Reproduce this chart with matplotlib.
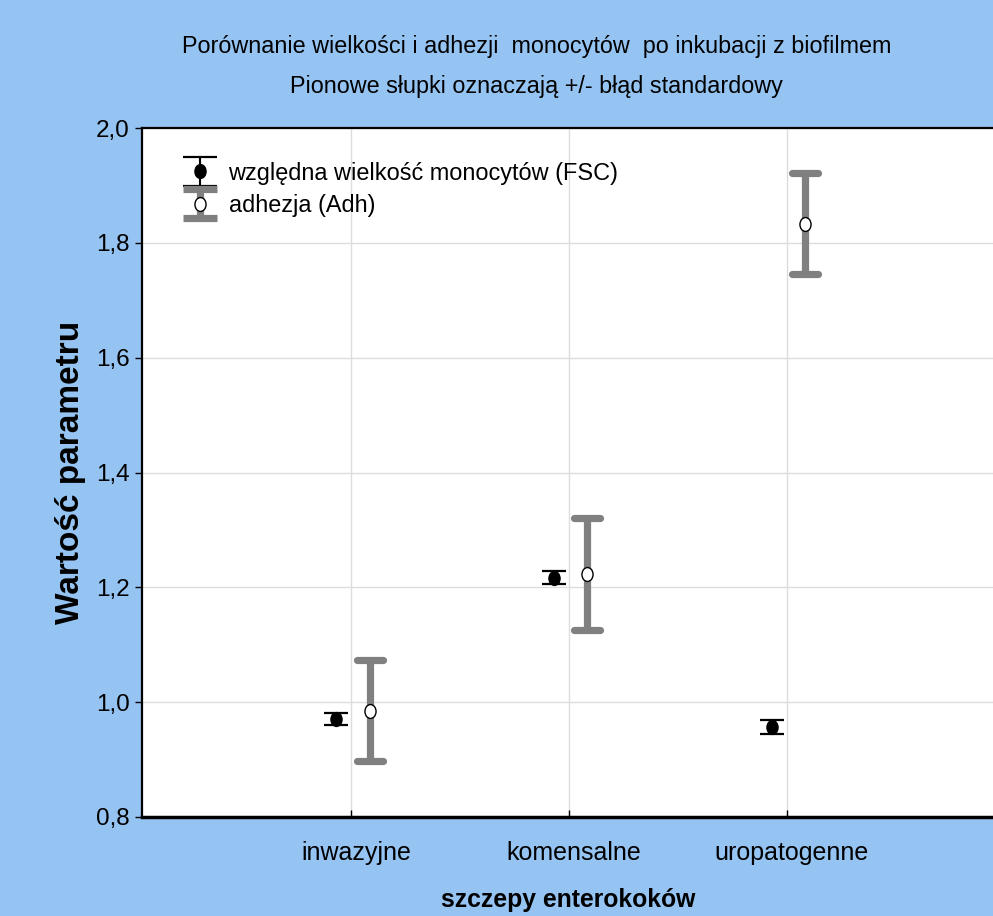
import matplotlib
matplotlib.use("Agg")
import matplotlib.pyplot as plt
import numpy as np
from matplotlib.path import Path
from matplotlib.markers import MarkerStyle
from matplotlib.transforms import Affine2D, ScaledTranslation
from matplotlib.legend_handler import HandlerErrorbar
from matplotlib.container import ErrorbarContainer

plt.rcParams['font.family'] = ['Liberation Sans', 'DejaVu Sans']

categories = ['inwazyjne', 'komensalne', 'uropatogenne']
fsc_mean = [0.971, 1.217, 0.957]
fsc_se = [0.011, 0.011, 0.012]
adh_mean = [0.985, 1.223, 1.833]
adh_se = [0.088, 0.097, 0.088]
yticks = [0.8, 1.0, 1.2, 1.4, 1.6, 1.8, 2.0]
ytick_labels = ['0,8', '1,0', '1,2', '1,4', '1,6', '1,8', '2,0']

BG = '#95C4F2'
W, H = 993, 916
fig = plt.figure(figsize=(W / 100, H / 100), dpi=100, facecolor=BG)
ax = fig.add_axes([142 / W, 1 - 817 / H, (1004.5 - 142) / W, (817 - 128) / H])
ax.set_facecolor('white')

x = np.arange(1, len(categories) + 1)
ell = MarkerStyle(Path.unit_circle().transformed(Affine2D().scale(0.8, 1.0)))

adh = ax.errorbar(x + 0.085, adh_mean, yerr=adh_se, fmt='none', ecolor='#808080',
                  elinewidth=5.2, capsize=9.7, capthick=5.2, zorder=3)
for cl in adh[1]:
    cl.set_marker(MarkerStyle('_', capstyle='round'))
ax.plot(x + 0.085, adh_mean, linestyle='none', marker=ell, markersize=10,
        markerfacecolor='white', markeredgecolor='black', markeredgewidth=1.0, zorder=4)

fsc = ax.errorbar(x - 0.068, fsc_mean, yerr=fsc_se, fmt='none', ecolor='black',
                  elinewidth=1.5, capsize=8.5, capthick=1.6, zorder=3)
ax.plot(x - 0.068, fsc_mean, linestyle='none', marker=ell, markersize=10,
        markerfacecolor='black', markeredgecolor='black', zorder=4)

# legend handles (NaN data, only used for the legend)
hf = ax.errorbar([np.nan], [np.nan], yerr=[0.0], fmt='o', color='black', ecolor='black',
                 ms=10, elinewidth=1.5, capsize=12.5, capthick=1.6)
hf[0].set_marker(ell)
ha = ax.errorbar([np.nan], [np.nan], yerr=[0.0], fmt='o', mfc='white', mec='black', ms=10,
                 ecolor='#808080', elinewidth=5.2, capsize=12.5, capthick=5.2)
ha[0].set_marker(ell)
for cl in ha[1]:
    cl.set_marker(MarkerStyle('_', capstyle='round'))
leg = ax.legend([hf, ha], ['względna wielkość monocytów (FSC)', 'adhezja (Adh)'],
                loc='upper left', bbox_to_anchor=(0.035, 0.965), frameon=False,
                fontsize=16.9, handlelength=1.6, handletextpad=0.4, labelspacing=0.4,
                borderaxespad=0,
                handler_map={ErrorbarContainer: HandlerErrorbar(yerr_size=0.61)})

ax.set_xlim(0.04, 4.0)
ax.set_ylim(0.8, 2.0)
ax.set_yticks(yticks)
ax.set_yticklabels(ytick_labels, fontsize=17.5)
ax.set_xticks(x)
ax.set_xticklabels(categories, fontsize=18)
ax.tick_params(axis='y', direction='out', length=5, width=1, pad=4)
ax.tick_params(axis='x', direction='in', length=5, width=1, pad=17)
off = ScaledTranslation(5 / 100, 0, fig.dpi_scale_trans)
for lab in ax.get_xticklabels():
    lab.set_transform(lab.get_transform() + off)
ax.grid(True, color='#dcdcdc', linewidth=1)
ax.set_axisbelow(True)

for s in ['top', 'left']:
    ax.spines[s].set_linewidth(1.6)
ax.spines['bottom'].set_linewidth(2.5)
ax.spines['right'].set_visible(False)

ax.set_xlabel('szczepy enterokoków', fontsize=17.8, fontweight='bold')
ax.xaxis.set_label_coords((568 - 142) / 862.5, -(900 - 817) / 689, transform=ax.transAxes)
ax.xaxis.label.set_va('center')
ax.set_ylabel('Wartość parametru', fontsize=24, fontweight='bold', labelpad=7)

tfam = ['Liberation Sans Narrow', 'Liberation Sans', 'DejaVu Sans']
fig.text(537 / W, 1 - 47 / H, 'Porównanie wielkości i adhezji  monocytów  po inkubacji z biofilmem',
         ha='center', va='center', fontsize=16.8, family=tfam)
fig.text(536 / W, 1 - 86 / H, 'Pionowe słupki oznaczają +/- błąd standardowy',
         ha='center', va='center', fontsize=16.8, family=tfam)

fig.savefig('out.png', dpi=100, facecolor=BG)
